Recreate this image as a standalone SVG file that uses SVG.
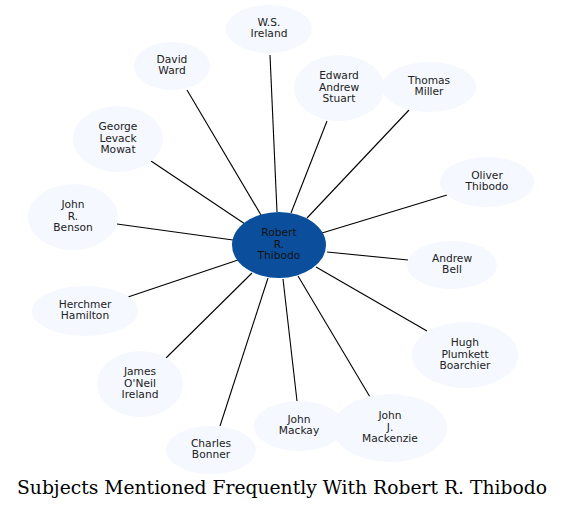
<svg xmlns="http://www.w3.org/2000/svg" width="564" height="511" viewBox="0 0 564 511">
<style>
.n ellipse{fill:#f5f8fe;stroke:none}
.n text{font-family:"DejaVu Sans",sans-serif;font-size:10.67px;fill:#222;text-anchor:middle}
#center ellipse{fill:#0b4f9c}
#center text{fill:#111}
.e line{stroke:#000;stroke-width:1.1}
.title{font-family:"DejaVu Serif",serif;font-size:18px;fill:#000;text-anchor:middle}
</style>
<rect width="564" height="511" fill="#fff"/>
<g class="e" id="connectors">
<line x1="277" y1="212" x2="270" y2="55"/>
<line x1="261" y1="215" x2="187" y2="90"/>
<line x1="291" y1="213" x2="327" y2="121"/>
<line x1="307" y1="218" x2="409" y2="110"/>
<line x1="245" y1="224" x2="151" y2="161"/>
<line x1="322" y1="233" x2="447" y2="195"/>
<line x1="233" y1="240" x2="117" y2="224"/>
<line x1="327" y1="252" x2="408" y2="260"/>
<line x1="238" y1="260" x2="128" y2="297"/>
<line x1="316" y1="267" x2="427" y2="331"/>
<line x1="252" y1="273" x2="166" y2="358"/>
<line x1="268" y1="278" x2="220" y2="426"/>
<line x1="283" y1="279" x2="297" y2="401"/>
<line x1="298" y1="276" x2="370" y2="397"/>
</g>
<g class="n" id="ws-ireland"><ellipse cx="269" cy="29" rx="43" ry="24"/><text x="269" y="25.5">W.S.<tspan x="269" dy="11.5">Ireland</tspan></text></g>
<g class="n" id="david-ward"><ellipse cx="172" cy="66" rx="38" ry="24"/><text x="172" y="62.5">David<tspan x="172" dy="11.5">Ward</tspan></text></g>
<g class="n" id="edward-andrew-stuart"><ellipse cx="339" cy="88" rx="45" ry="33"/><text x="339" y="79">Edward<tspan x="339" dy="11.5">Andrew</tspan><tspan x="339" dy="11.5">Stuart</tspan></text></g>
<g class="n" id="thomas-miller"><ellipse cx="429" cy="87" rx="47" ry="25"/><text x="429" y="83.5">Thomas<tspan x="429" dy="11.5">Miller</tspan></text></g>
<g class="n" id="george-levack-mowat"><ellipse cx="118" cy="139" rx="45" ry="33"/><text x="118" y="130">George<tspan x="118" dy="11.5">Levack</tspan><tspan x="118" dy="11.5">Mowat</tspan></text></g>
<g class="n" id="oliver-thibodo"><ellipse cx="487" cy="182" rx="47" ry="25"/><text x="487" y="178.5">Oliver<tspan x="487" dy="11.5">Thibodo</tspan></text></g>
<g class="n" id="john-r-benson"><ellipse cx="73" cy="217" rx="45" ry="33"/><text x="73" y="208">John<tspan x="73" dy="11.5">R.</tspan><tspan x="73" dy="11.5">Benson</tspan></text></g>
<g class="n" id="center"><ellipse cx="279" cy="245" rx="47" ry="33"/><text x="279" y="236">Robert<tspan x="279" dy="11.5">R.</tspan><tspan x="279" dy="11.5">Thibodo</tspan></text></g>
<g class="n" id="andrew-bell"><ellipse cx="452" cy="265" rx="45" ry="24"/><text x="452" y="261.5">Andrew<tspan x="452" dy="11.5">Bell</tspan></text></g>
<g class="n" id="herchmer-hamilton"><ellipse cx="85" cy="311" rx="53" ry="25"/><text x="85" y="307.5">Herchmer<tspan x="85" dy="11.5">Hamilton</tspan></text></g>
<g class="n" id="hugh-plumkett-boarchier"><ellipse cx="465" cy="355" rx="53" ry="33"/><text x="465" y="346">Hugh<tspan x="465" dy="11.5">Plumkett</tspan><tspan x="465" dy="11.5">Boarchier</tspan></text></g>
<g class="n" id="james-oneil-ireland"><ellipse cx="140" cy="384" rx="43" ry="33"/><text x="140" y="375">James<tspan x="140" dy="11.5">O'Neil</tspan><tspan x="140" dy="11.5">Ireland</tspan></text></g>
<g class="n" id="charles-bonner"><ellipse cx="211" cy="450" rx="45" ry="24"/><text x="211" y="446.5">Charles<tspan x="211" dy="11.5">Bonner</tspan></text></g>
<g class="n" id="john-mackay"><ellipse cx="299" cy="426" rx="45" ry="25"/><text x="299" y="422.5">John<tspan x="299" dy="11.5">Mackay</tspan></text></g>
<g class="n" id="john-j-mackenzie"><ellipse cx="390" cy="428" rx="57" ry="34"/><text x="390" y="419">John<tspan x="390" dy="11.5">J.</tspan><tspan x="390" dy="11.5">Mackenzie</tspan></text></g>
<text class="title" x="282" y="494" textLength="530" lengthAdjust="spacingAndGlyphs">Subjects Mentioned Frequently With Robert R. Thibodo</text>
</svg>
